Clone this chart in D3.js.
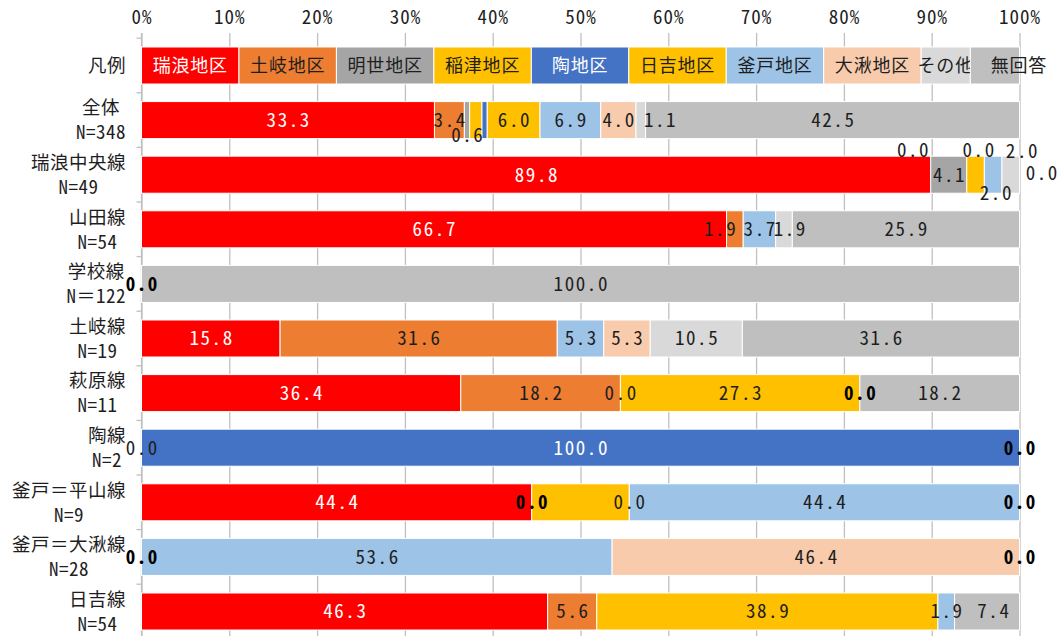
<!DOCTYPE html>
<html><head><meta charset="utf-8">
<script src="https://cdn.jsdelivr.net/npm/d3@7"></script>
<style>
body{margin:0;background:#fff;}
svg{display:block;}
</style></head><body>
<svg id="chart" width="1060" height="636"></svg>
<script>
// ---------- data ----------
const categories = ["全体","瑞浪中央線","山田線","学校線","土岐線","萩原線","陶線","釜戸＝平山線","釜戸＝大湫線","日吉線"];
const sampleSizes = ["N=348","N=49","N=54","N＝122","N=19","N=11","N=2","N=9","N=28","N=54"];
const areas = ["瑞浪地区","土岐地区","明世地区","稲津地区","陶地区","日吉地区","釜戸地区","大湫地区","その他","無回答"];
const legendLabel = "凡例";
const legendShares = [11.1,11.1,11.1,11.1,11.1,11.1,11.1,11.1,5.6,5.6];

const mizunamiValues = [33.3, 89.8, 66.7, 0, 15.8, 36.4, 0, 44.4, 0, 46.3];
const tokiValues     = [3.4, 0, 1.9, 0, 31.6, 18.2, 0, 0, 0, 5.6];
const akeyoValues    = [0.6, 4.1, 0, 0, 0, 0, 0, 0, 0, 0];
const inatsuValues   = [1.4, 2.0, 0, 0, 0, 27.3, 0, 11.1, 0, 0];
const sueValues      = [0.6, 0, 0, 0, 0, 0, 100.0, 0, 0, 0];
const hiyoshiValues  = [6.0, 0, 0, 0, 0, 0, 0, 0, 0, 38.9];
const kamadoValues   = [6.9, 2.0, 3.7, 0, 5.3, 0, 0, 44.4, 53.6, 1.9];
const okuteValues    = [4.0, 0, 0, 0, 5.3, 0, 0, 0, 46.4, 0];
const otherValues    = [1.1, 2.0, 1.9, 0, 10.5, 0, 0, 0, 0, 0];
const noAnswerValues = [42.5, 0, 25.9, 100.0, 31.6, 18.2, 0, 0, 0, 7.4];

const xTickValues = [0,10,20,30,40,50,60,70,80,90,100];
const xTickLabels = ["0%","10%","20%","30%","40%","50%","60%","70%","80%","90%","100%"];

// ---------- styles ----------
const areaColors = ["#FF0000","#ED7D31","#A5A5A5","#FFC000","#4472C4","#FFC000","#9DC3E6","#F8CBAD","#D9D9D9","#BFBFBF"];
const whiteText = new Set(["瑞浪地区","陶地区"]);
const monoFont = "'Noto Sans Mono CJK JP','Noto Sans CJK JP','DejaVu Sans Mono',monospace";
const cjkFont = "'Noto Sans CJK JP','Noto Sans Mono CJK JP',sans-serif";
const textDark = "#1e1e1e";

// label placement tweaks (row|series)
const labelTweaks = {
 "0|2":{dy:15}, "0|3":{hide:true}, "0|4":{hide:true}, "0|8":{dx:19},
 "1|1":{show:true,dx:-18,dy:-25}, "1|3":{hide:true}, "1|4":{show:true,dx:-6,dy:-25},
 "1|6":{dx:2.5,dy:18.5}, "1|8":{dx:11,dy:-24}, "1|9":{show:true,dx:22,dy:-2},
 "2|1":{dx:-15}, "2|8":{dx:5.5},
 "3|0":{show:true,bold:true},
 "5|2":{show:true}, "5|6":{show:true,bold:true},
 "6|0":{show:true}, "6|9":{show:true,bold:true},
 "7|1":{show:true,bold:true}, "7|3":{hide:true}, "7|4":{show:true}, "7|9":{show:true,bold:true},
 "8|0":{show:true,bold:true}, "8|9":{show:true,bold:true},
 "9|9":{dx:6}
};

// ---------- build table ----------
const seriesArrays = [mizunamiValues,tokiValues,akeyoValues,inatsuValues,sueValues,hiyoshiValues,kamadoValues,okuteValues,otherValues,noAnswerValues];
const table = categories.map((c,i)=>{
  const row = {category:c};
  areas.forEach((a,j)=>row[a]=seriesArrays[j][i]);
  return row;
});
const legendRow = {category:legendLabel};
areas.forEach((a,j)=>legendRow[a]=legendShares[j]);

const stack = d3.stack().keys(areas).offset(d3.stackOffsetExpand);
const stacked = stack(table);
const legendStacked = stack([legendRow]);

// ---------- scales ----------
const svg = d3.select("#chart");
const plotTop = 33, plotBottom = 636;
const x = d3.scaleLinear().domain([0,1]).range([141.5,1019.5]);
const y = d3.scaleBand().domain([legendLabel,...categories]).range([38.2,638.8]).paddingInner(0.322).paddingOuter(0.161);
const color = d3.scaleOrdinal().domain(areas).range(areaColors);

// gridlines + top axis
const xAxis = d3.axisTop(x)
  .tickValues(xTickValues.map(v=>v/100))
  .tickFormat((d,i)=>xTickLabels[i])
  .tickSize(-(plotBottom-plotTop))
  .tickSizeOuter(0);
const gx = svg.append("g").attr("transform",`translate(0,${plotTop})`).call(xAxis);
gx.select(".domain").remove();
gx.selectAll(".tick line").attr("stroke","#c0c0c0").attr("stroke-width",1.3);
gx.selectAll(".tick text")
  .attr("y",-16).attr("dy","0.35em")
  .attr("fill",textDark)
  .style("font-family",monoFont).style("font-size","19px").style("letter-spacing","1px");

// left axis
const yAxis = d3.axisLeft(y).tickSize(0).tickFormat("");
const gy = svg.append("g").attr("transform",`translate(${x(0)},0)`).call(yAxis);
gy.select(".domain").attr("d",`M0,${plotTop}V${plotBottom}`).attr("stroke","#c0c0c0").attr("stroke-width",1.3);
const half = y.step()*y.paddingInner()/2;
gy.selectAll(".boundary").data(y.domain()).join("line")
  .attr("x1",-5).attr("x2",0)
  .attr("y1",d=>y(d)-half).attr("y2",d=>y(d)-half)
  .attr("stroke","#c0c0c0").attr("stroke-width",1.3);

// legend bar
const legendG = svg.append("g");
legendStacked.forEach((s,j)=>{
  const d = s[0];
  legendG.append("rect")
    .attr("x",x(d[0])).attr("width",x(d[1])-x(d[0]))
    .attr("y",y(legendLabel)).attr("height",y.bandwidth())
    .attr("fill",color(s.key)).attr("stroke","#fff").attr("stroke-width",1);
  const cx = (x(d[0])+x(d[1]))/2 + (s.key==="無回答"?24:0);
  legendG.append("text")
    .attr("x",cx).attr("y",y(legendLabel)+y.bandwidth()/2).attr("dy","0.36em")
    .attr("text-anchor","middle")
    .attr("fill",whiteText.has(s.key)?"#fff":textDark)
    .style("font-family",cjkFont).style("font-size","18px").style("letter-spacing","0.8px")
    .text(s.key);
});

// bars
const barsG = svg.append("g");
stacked.forEach((s,j)=>{
  barsG.append("g").selectAll("rect").data(s).join("rect")
    .attr("x",d=>x(d[0])).attr("width",d=>x(d[1])-x(d[0]))
    .attr("y",d=>y(d.data.category)).attr("height",y.bandwidth())
    .attr("fill",color(s.key)).attr("stroke","#fff").attr("stroke-width",1);
});

// value labels
const labelsG = svg.append("g");
stacked.forEach((s,j)=>{
  s.forEach((d,i)=>{
    const v = seriesArrays[j][i];
    const tw = labelTweaks[`${i}|${j}`] || {};
    if (tw.hide) return;
    if (v===0 && !tw.show) return;
    const cx = (x(d[0])+x(d[1]))/2 + (tw.dx||0) + 0.8;
    const cy = y(d.data.category)+y.bandwidth()/2 + (tw.dy||0);
    labelsG.append("text")
      .attr("x",cx).attr("y",cy).attr("dy","0.36em")
      .attr("text-anchor","middle")
      .attr("fill",(whiteText.has(s.key)&&v>0)?"#fff":(tw.bold?"#000":textDark))
      .style("font-family",monoFont).style("font-size","19px")
      .style("letter-spacing","1.6px")
      .style("font-weight",tw.bold?"bold":"normal")
      .text(v.toFixed(1));
  });
});

// category labels
const catG = svg.append("g");
const labelRight = 126;
[legendLabel,...categories].forEach((c,i)=>{
  const cy = y(c)+y.bandwidth()/2;
  const g = catG.append("g");
  if (i===0) {
    g.append("text").attr("x",0).attr("y",cy).attr("dy","0.36em").attr("text-anchor","middle")
      .attr("fill",textDark).style("font-family",cjkFont).style("font-size","18.5px").style("letter-spacing","0.5px")
      .text(c);
  } else {
    g.append("text").attr("x",0).attr("y",cy-12).attr("dy","0.34em").attr("text-anchor","middle")
      .attr("fill",textDark).style("font-family",cjkFont).style("font-size","18.5px").style("letter-spacing","0.5px")
      .text(c);
    g.append("text").attr("x",0).attr("y",cy+12.5).attr("dy","0.36em").attr("text-anchor","middle")
      .attr("fill",textDark).style("font-family",monoFont).style("font-size","19px").style("letter-spacing","0.5px")
      .text(sampleSizes[i-1]);
  }
  const bb = g.node().getBBox();
  g.attr("transform",`translate(${labelRight-(bb.x+bb.width)},0)`);
});
</script>
</body></html>
